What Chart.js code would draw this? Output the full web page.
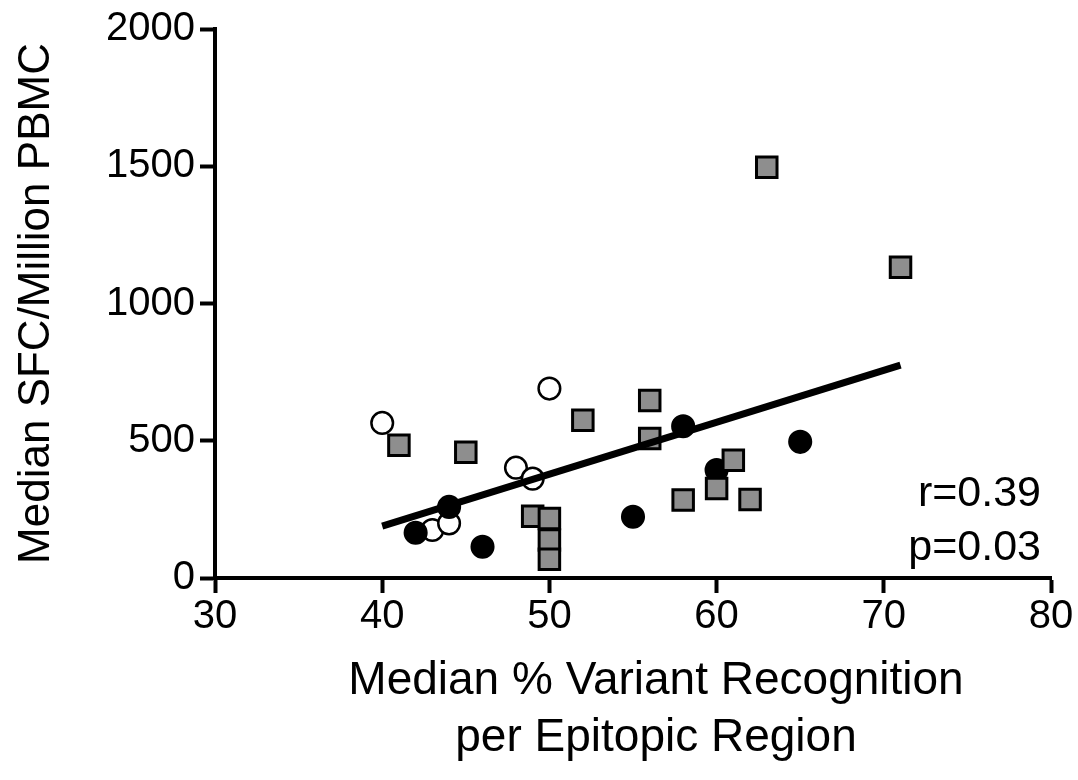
<!DOCTYPE html>
<html>
<head>
<meta charset="utf-8">
<script src="https://cdn.jsdelivr.net/npm/chart.js@4.4.1/dist/chart.umd.min.js"></script>
<style>
  html, body { margin: 0; padding: 0; background: #ffffff; }
  #wrap { width: 1078px; height: 780px; position: relative; }
</style>
</head>
<body>
<div id="wrap"><canvas id="c" width="1078" height="780"></canvas></div>
<script>
// ---- Data ----
const blackX = [42, 44, 46, 55, 58, 60, 65];
const blackY = [165, 259, 114, 223, 553, 393, 496];

const openX = [40, 43, 44, 48, 49, 50];
const openY = [565, 175, 199, 402, 362, 690];

const squareX = [41, 45, 49, 50, 50, 50, 52, 56, 56, 58, 60, 61, 62, 63, 71];
const squareY = [484, 458, 225, 217, 138, 68, 575, 647, 508, 284, 326, 429, 286, 1496, 1132];

const xTicks = [30, 40, 50, 60, 70, 80];
const yTicks = [0, 500, 1000, 1500, 2000];

const yTitle = 'Median SFC/Million PBMC';
const xTitle = ['Median % Variant Recognition', 'per Epitopic Region'];
const statsText = ['r=0.39', 'p=0.03'];

// ---- Build library structures ----
function pts(xs, ys) { return xs.map((x, i) => ({ x: x, y: ys[i] })); }

const allX = blackX.concat(openX, squareX);
const allY = blackY.concat(openY, squareY);
// least-squares regression line computed from the data
const n = allX.length;
const mx = allX.reduce((a, b) => a + b, 0) / n;
const my = allY.reduce((a, b) => a + b, 0) / n;
let sxy = 0, sxx = 0;
for (let i = 0; i < n; i++) { sxy += (allX[i] - mx) * (allY[i] - my); sxx += (allX[i] - mx) ** 2; }
const slope = sxy / sxx;
const icpt = my - slope * mx;
const xMin = Math.min(...allX), xMax = Math.max(...allX);
const fitLine = [xMin, xMax].map(x => ({ x: x, y: icpt + slope * x }));

const FONT = "'Liberation Sans', Arial, Helvetica, sans-serif";

const textPlugin = {
  id: 'texts',
  afterDraw(chart) {
    const ctx = chart.ctx;
    const area = chart.chartArea;
    ctx.save();
    ctx.fillStyle = '#000';
    // r / p annotation
    ctx.font = '43px ' + FONT;
    ctx.textAlign = 'right';
    ctx.textBaseline = 'middle';
    ctx.fillText(statsText[0], 1041, 494);
    ctx.fillText(statsText[1], 1041, 548);
    // x-axis title (two lines)
    ctx.font = '46px ' + FONT;
    ctx.textAlign = 'center';
    const cx = (area.left + area.right) / 2 + 23;
    ctx.fillText(xTitle[0], cx, 681);
    ctx.fillText(xTitle[1], cx, 738);
    ctx.restore();
  }
};

const bgPlugin = {
  id: 'bg',
  beforeDraw(chart) {
    const ctx = chart.ctx;
    ctx.save();
    ctx.fillStyle = '#fff';
    ctx.fillRect(0, 0, chart.width, chart.height);
    ctx.restore();
  }
};

new Chart(document.getElementById('c'), {
  type: 'scatter',
  data: {
    datasets: [
      {
        type: 'line',
        data: fitLine,
        borderColor: '#000',
        borderWidth: 7,
        pointRadius: 0,
        fill: false,
        order: 0
      },
      {
        data: pts(squareX, squareY),
        pointStyle: 'rect',
        pointRadius: 14.5,
        backgroundColor: '#8e8e8e',
        borderColor: '#000',
        borderWidth: 3,
        order: 1
      },
      {
        data: pts(blackX, blackY),
        pointStyle: 'circle',
        pointRadius: 10.8,
        backgroundColor: '#000',
        borderColor: '#000',
        borderWidth: 2.5,
        order: 2
      },
      {
        data: pts(openX, openY),
        pointStyle: 'circle',
        pointRadius: 10.8,
        backgroundColor: '#fff',
        borderColor: '#000',
        borderWidth: 2.5,
        order: 3
      }
    ]
  },
  options: {
    responsive: false,
    animation: false,
    devicePixelRatio: 1,
    layout: { padding: { left: 0, right: 27, top: 28, bottom: 0 } },
    plugins: { legend: { display: false }, tooltip: { enabled: false } },
    scales: {
      x: {
        type: 'linear',
        min: xTicks[0],
        max: xTicks[xTicks.length - 1],
        afterBuildTicks(scale) { scale.ticks = xTicks.map(v => ({ value: v })); },
        afterFit(scale) { scale.height = 202; },
        grid: { drawOnChartArea: false, drawTicks: true, tickLength: 15, tickWidth: 4, tickColor: '#000' },
        border: { display: true, color: '#000', width: 4 },
        ticks: {
          color: '#000', font: { family: FONT, size: 40 }, padding: 0, maxRotation: 0,
          callback: v => String(v)
        },
        title: { display: false }
      },
      y: {
        type: 'linear',
        min: yTicks[0],
        max: yTicks[yTicks.length - 1],
        afterBuildTicks(scale) { scale.ticks = yTicks.map(v => ({ value: v })); },
        afterFit(scale) { scale.width = 215; },
        grid: { drawOnChartArea: false, drawTicks: true, tickLength: 15, tickWidth: 4, tickColor: '#000' },
        border: { display: true, color: '#000', width: 4 },
        ticks: {
          color: '#000', font: { family: FONT, size: 40 }, padding: 5,
          callback: v => String(v)
        },
        title: {
          display: true,
          text: yTitle,
          color: '#000',
          font: { family: FONT, size: 44 },
          padding: { top: 10, bottom: 0 }
        }
      }
    }
  },
  plugins: [bgPlugin, textPlugin]
});
</script>
</body>
</html>
